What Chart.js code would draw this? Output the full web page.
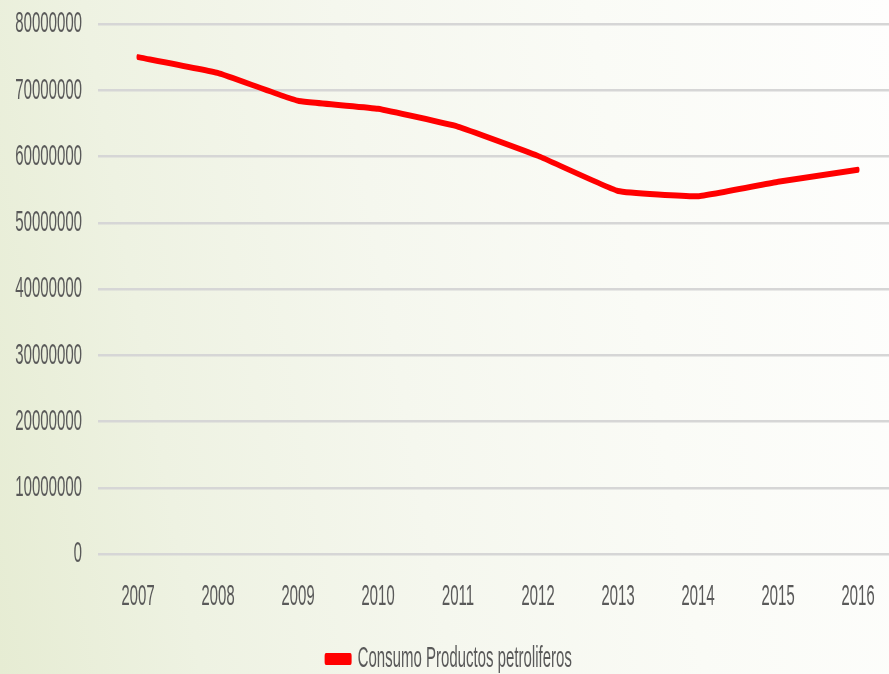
<!DOCTYPE html>
<html>
<head>
<meta charset="utf-8">
<script src="https://cdn.jsdelivr.net/npm/chart.js@4/dist/chart.umd.min.js"></script>
<style>
  html, body { margin:0; padding:0; width:889px; height:674px; overflow:hidden; }
  body { background: linear-gradient(80deg, #e6ecd3 0%, #eef2e2 20%, #f5f7ee 45%, #fafbf6 70%, #fefefd 100%); }
  #c { display:block; width:924px; height:674px; }
</style>
</head>
<body>
<canvas id="c" width="1848" height="674" style="width:924px;height:674px;"></canvas>
<script>
const categories = ["2007","2008","2009","2010","2011","2012","2013","2014","2015","2016"];
const consumoValues = [75000000, 72600000, 68400000, 67200000, 64500000, 60100000, 54800000, 54000000, 56200000, 58000000];
const seriesName = "Consumo Productos petroliferos";
const yTicks = [0,10000000,20000000,30000000,40000000,50000000,60000000,70000000,80000000];

const grey = '#595959';
const fontFam = '"Liberation Sans", Arial, sans-serif';

new Chart(document.getElementById('c'), {
  type: 'line',
  data: {
    labels: categories,
    datasets: [{
      label: seriesName,
      data: consumoValues,
      borderColor: '#ff0000',
      backgroundColor: '#ff0000',
      borderWidth: 6,
      pointRadius: 0,
      tension: 0.1,
      borderCapStyle: 'round',
      borderJoinStyle: 'round'
    }]
  },
  options: {
    responsive: false,
    maintainAspectRatio: false,
    devicePixelRatio: 1,
    animation: false,
    layout: { padding: { top: 24, right: 52, left: 0, bottom: -10 } },
    plugins: {
      tooltip: { enabled: false },
      legend: {
        position: 'bottom',
        labels: {
          color: grey,
          font: { family: fontFam, size: 30, lineHeight: 1.1 },
          boxWidth: 48,
          boxHeight: 6,
          padding: 0
        }
      }
    },
    scales: {
      x: {
        offset: true,
        grid: { display: false, drawTicks: false },
        border: { display: false },
        afterFit: (s) => { s.height = 90; },
        ticks: { color: grey, font: { family: fontFam, size: 30 }, padding: 25, maxRotation: 0 }
      },
      y: {
        min: 0,
        max: 80000000,
        afterBuildTicks: (s) => { s.ticks = yTicks.map(v => ({ value: v })); },
        afterFit: (s) => { s.width = 196; s.paddingTop = 0; s.paddingBottom = 0; },
        grid: { color: '#d6d6d6', lineWidth: 2.5, drawTicks: false },
        border: { display: false },
        ticks: { color: grey, font: { family: fontFam, size: 30 }, padding: 32, callback: (v) => String(v) }
      }
    }
  }
});
</script>
</body>
</html>
